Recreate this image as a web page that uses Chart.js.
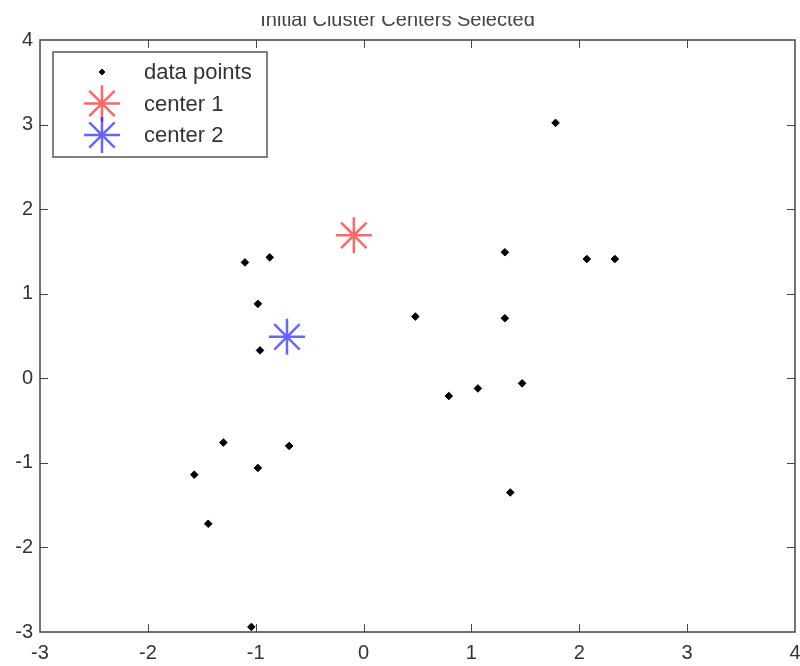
<!DOCTYPE html>
<html>
<head>
<meta charset="utf-8">
<script src="https://cdn.jsdelivr.net/npm/chart.js@4/dist/chart.umd.min.js"></script>
<style>
  html, body { margin: 0; padding: 0; background: #fff; }
</style>
</head>
<body>
<canvas id="scatterplot" width="800" height="666"></canvas>
<script>
// values
const pointX = [1.78, -1.10, -0.87, -0.98, -0.96, 0.48, 1.31, 1.31, 0.79, 1.06,
                1.47, 2.07, 2.33, -1.30, -1.57, -0.98, -0.69, -1.44, 1.36, -1.04];
const pointY = [3.02, 1.37, 1.43, 0.88, 0.33, 0.73, 1.49, 0.71, -0.21, -0.12,
                -0.06, 1.41, 1.41, -0.76, -1.14, -1.06, -0.80, -1.72, -1.35, -2.94];
const center1 = [-0.09, 1.69];
const center2 = [-0.71, 0.49];
const xTicks = [-3, -2, -1, 0, 1, 2, 3, 4];
const yTicks = [-3, -2, -1, 0, 1, 2, 3, 4];
const labels = ['data points', 'center 1', 'center 2'];
const titleText = 'Initial Cluster Centers Selected';

const FONT = "'Liberation Sans', Arial, sans-serif";

// inward ticks + box around plot, the way matlab draws it
const boxTicks = {
    id: 'boxTicks',
    afterDraw(chart) {
        const ctx = chart.ctx;
        const a = chart.chartArea;
        const xs = chart.scales.x, ys = chart.scales.y;
        ctx.save();
        ctx.strokeStyle = '#444';
        ctx.lineWidth = 1;
        xTicks.slice(1, -1).forEach(v => {
            const px = Math.round(xs.getPixelForValue(v)) + 0.5;
            ctx.beginPath();
            ctx.moveTo(px, a.bottom); ctx.lineTo(px, a.bottom - 8);
            ctx.moveTo(px, a.top); ctx.lineTo(px, a.top + 8);
            ctx.stroke();
        });
        yTicks.slice(1, -1).forEach(v => {
            const py = Math.round(ys.getPixelForValue(v)) + 0.5;
            ctx.beginPath();
            ctx.moveTo(a.left, py); ctx.lineTo(a.left + 8, py);
            ctx.moveTo(a.right, py); ctx.lineTo(a.right - 8, py);
            ctx.stroke();
        });
        ctx.lineWidth = 1.5;
        ctx.strokeRect(a.left, a.top, a.right - a.left, a.bottom - a.top);
        ctx.restore();
    }
};

// legend box inside the plot, upper left
const innerLegend = {
    id: 'innerLegend',
    afterDatasetsDraw(chart) {
        const g = chart.ctx;
        const a = chart.chartArea;
        const bx = a.left + 13, by = a.top + 12, bw = 214, bh = 105;
        g.save();
        g.fillStyle = '#fff';
        g.fillRect(bx, by, bw, bh);
        g.strokeStyle = '#555';
        g.lineWidth = 1.5;
        g.strokeRect(bx, by, bw, bh);
        g.font = '22px ' + FONT;
        g.textBaseline = 'middle';
        chart.data.datasets.forEach((ds, i) => {
            const cy = by + 20 + i * 31.5;
            g.fillStyle = ds.backgroundColor;
            g.strokeStyle = ds.borderColor;
            g.lineWidth = ds.borderWidth;
            Chart.helpers.drawPoint(g, {
                pointStyle: ds.pointStyle,
                radius: i === 0 ? 3 : ds.pointRadius,
                borderWidth: ds.borderWidth,
                rotation: 0
            }, a.left + 62, cy);
            g.fillStyle = '#333';
            g.fillText(ds.label, a.left + 104, cy + 1);
        });
        g.restore();
    }
};

// the top of the title is cut off in the reference
const titleCut = {
    id: 'titleCut',
    afterDraw(chart) {
        const g = chart.ctx;
        g.save();
        g.fillStyle = '#fff';
        g.fillRect(200, 0, 400, 16);
        g.restore();
    }
};

const ctx = document.getElementById('scatterplot').getContext('2d');
const chart = new Chart(ctx, {
    type: 'scatter',
    data: {
        datasets: [
            {
                label: labels[0],
                data: pointX.map((x, i) => ({ x, y: pointY[i] })),
                pointStyle: 'rectRot',
                pointRadius: 3.8,
                backgroundColor: '#000',
                borderColor: '#000',
                borderWidth: 1
            },
            {
                label: labels[1],
                data: [{ x: center1[0], y: center1[1] }],
                pointStyle: 'star',
                pointRadius: 18,
                backgroundColor: 'rgba(255,0,0,0.6)',
                borderColor: 'rgba(255,0,0,0.6)',
                borderWidth: 2.5
            },
            {
                label: labels[2],
                data: [{ x: center2[0], y: center2[1] }],
                pointStyle: 'star',
                pointRadius: 18,
                backgroundColor: 'rgba(0,0,255,0.6)',
                borderColor: 'rgba(0,0,255,0.6)',
                borderWidth: 2.5
            }
        ]
    },
    options: {
        responsive: false,
        animation: false,
        layout: { autoPadding: false, padding: { top: 0, right: 5, left: 0, bottom: 0 } },
        plugins: {
            legend: { display: false },
            tooltip: { enabled: false },
            title: {
                display: true,
                text: titleText,
                color: '#444',
                font: { family: FONT, size: 20, weight: 'normal' },
                padding: { top: 8, bottom: 8 }
            }
        },
        scales: {
            x: {
                type: 'linear',
                min: -3, max: 4,
                afterBuildTicks: s => { s.ticks = xTicks.map(v => ({ value: v })); },
                afterFit: s => { s.height = 34; s.paddingLeft = 0; s.paddingRight = 0; },
                grid: { display: false, drawTicks: false },
                border: { display: false },
                ticks: { color: '#333', padding: 9, font: { family: FONT, size: 20 } }
            },
            y: {
                type: 'linear',
                min: -3, max: 4,
                afterBuildTicks: s => { s.ticks = yTicks.map(v => ({ value: v })); },
                afterFit: s => { s.width = 40; s.paddingTop = 0; s.paddingBottom = 0; },
                grid: { display: false, drawTicks: false },
                border: { display: false },
                ticks: { color: '#333', padding: 7, font: { family: FONT, size: 20 } }
            }
        }
    },
    plugins: [boxTicks, innerLegend, titleCut]
});
</script>
</body>
</html>
